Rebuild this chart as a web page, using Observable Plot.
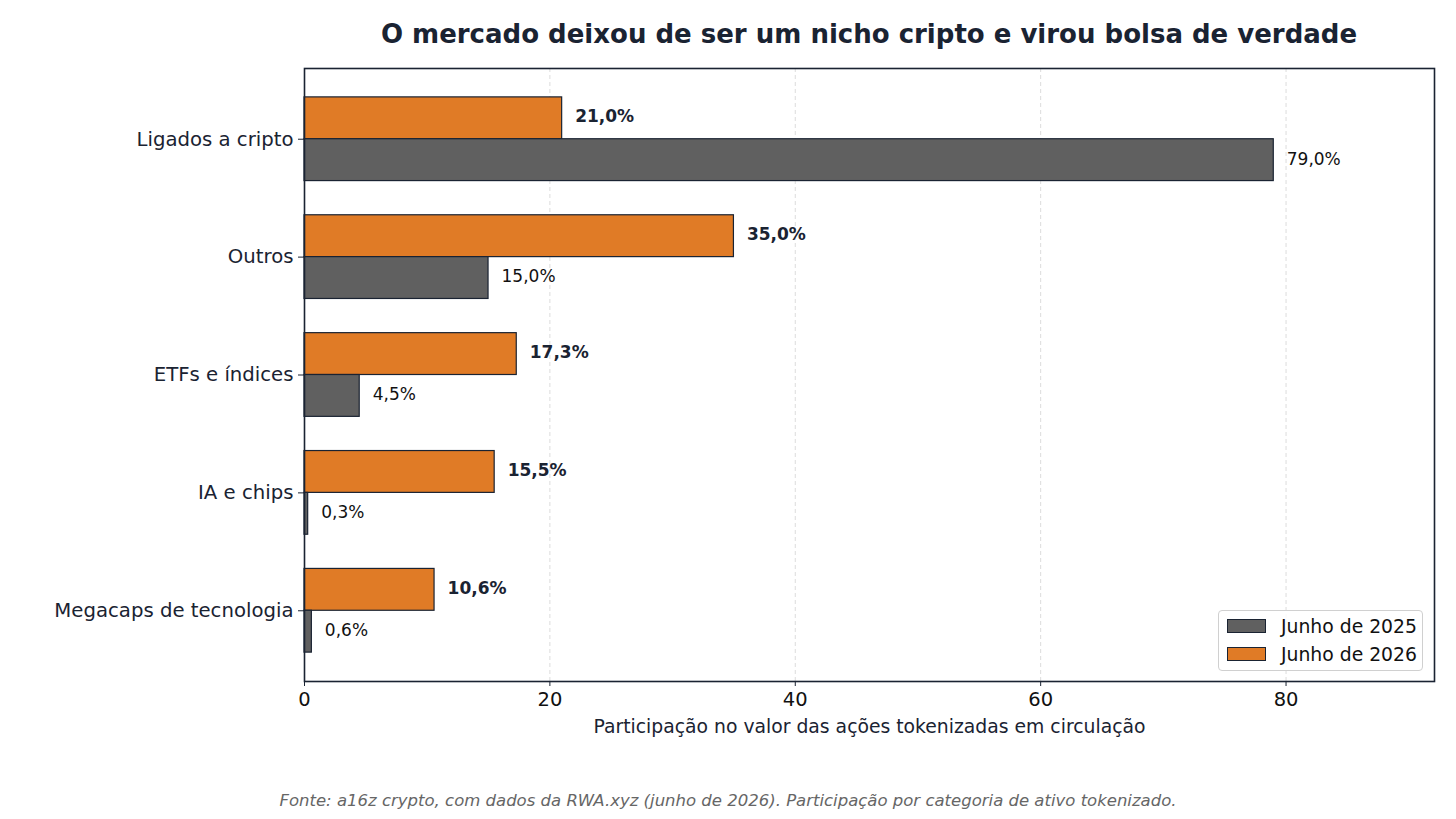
<!DOCTYPE html>
<html>
<head>
<meta charset="utf-8">
<script src="https://cdn.jsdelivr.net/npm/d3@7"></script>
<script src="https://cdn.jsdelivr.net/npm/@observablehq/plot@0.6"></script>
<style>
  html, body { margin: 0; padding: 0; background: #fff; }
  #wrap { position: relative; width: 1456px; height: 819px; font-family: "DejaVu Sans", sans-serif; }
  #title { position: absolute; left: 304px; width: 1130px; top: 19px; text-align: center; font-size: 26px; font-weight: bold; color: #1a2332; }
  #caption { position: absolute; left: 0; width: 1456px; top: 791px; text-align: center; font-size: 16.5px; font-style: italic; color: #666; }
  #legend { position: absolute; left: 1218px; top: 610px; width: 205px; height: 61px; border: 1px solid #d0d0d0; border-radius: 4px; background: rgba(255,255,255,0.85); box-sizing: border-box; }
  .item { position: absolute; left: 8px; height: 22px; display: flex; align-items: center; font-size: 18.8px; color: #111; }
  .sw { width: 39px; height: 14px; border: 1px solid #1a2332; margin-right: 15px; box-sizing: border-box; }
</style>
</head>
<body>
<div id="wrap">
  <div id="chart"></div>
  <div id="title"></div>
  <div id="legend"></div>
  <div id="caption"></div>
</div>
<script>
const categories = ["Ligados a cripto", "Outros", "ETFs e índices", "IA e chips", "Megacaps de tecnologia"];
const values2025 = [79.0, 15.0, 4.5, 0.3, 0.6];
const values2026 = [21.0, 35.0, 17.3, 15.5, 10.6];
const seriesNames = ["Junho de 2025", "Junho de 2026"];
const seriesColors = ["#606060", "#e07b26"];
const xTicks = [0, 20, 40, 60, 80];
const titleText = "O mercado deixou de ser um nicho cripto e virou bolsa de verdade";
const xLabel = "Participação no valor das ações tokenizadas em circulação";
const captionText = "Fonte: a16z crypto, com dados da RWA.xyz (junho de 2026). Participação por categoria de ativo tokenizado.";

const d25 = categories.map((c, i) => ({cat: c, value: values2025[i]}));
const d26 = categories.map((c, i) => ({cat: c, value: values2026[i]}));
const fmt = v => v.toFixed(1).replace(".", ",") + "%";

const half = 41.85;
const edge = "#1a2332";

const chart = Plot.plot({
  width: 1456,
  height: 819,
  marginLeft: 304,
  marginRight: 22,
  marginTop: 68,
  marginBottom: 138,
  style: {fontFamily: "DejaVu Sans, sans-serif", color: "#111", background: "#fff"},
  x: {domain: [0, 92.1]},
  y: {domain: categories, paddingInner: 0.29, paddingOuter: 0.245, round: false},
  marks: [
    Plot.ruleX(xTicks.slice(1), {stroke: "#dcdcdc", strokeDasharray: "4,3", strokeWidth: 1}),
    Plot.barX(d26, {y: "cat", x: "value", fill: seriesColors[1], stroke: edge, strokeWidth: 1.2, insetBottom: half}),
    Plot.barX(d25, {y: "cat", x: "value", fill: seriesColors[0], stroke: edge, strokeWidth: 1.2, insetTop: half}),
    Plot.text(d26, {y: "cat", x: "value", text: d => fmt(d.value), dx: 13, dy: -half / 2 - 1.5, textAnchor: "start", fontWeight: "bold", fontSize: 17, fill: edge}),
    Plot.text(d25, {y: "cat", x: "value", text: d => fmt(d.value), dx: 13, dy: half / 2 - 1, textAnchor: "start", fontSize: 17, fill: "#111"}),
    Plot.frame({stroke: edge, strokeWidth: 1.6}),
    Plot.axisX({ticks: xTicks, tickSize: 5, tickPadding: 6, fontSize: 19.5, label: null, stroke: edge, fill: "#111"}),
    Plot.axisY({tickSize: 6, tickPadding: 5, fontSize: 19.7, label: null, stroke: edge, fill: edge}),
    Plot.text([xLabel], {frameAnchor: "bottom", dy: 51, fontSize: 18.8, fill: edge})
  ]
});
document.getElementById("chart").appendChild(chart);

document.getElementById("title").textContent = titleText;
document.getElementById("caption").textContent = captionText;

const legend = document.getElementById("legend");
seriesNames.forEach((name, i) => {
  const item = document.createElement("div");
  item.className = "item";
  item.style.top = (4 + i * 28) + "px";
  const sw = document.createElement("div");
  sw.className = "sw";
  sw.style.background = seriesColors[i];
  const lab = document.createElement("span");
  lab.textContent = name;
  item.appendChild(sw);
  item.appendChild(lab);
  legend.appendChild(item);
});
</script>
</body>
</html>
